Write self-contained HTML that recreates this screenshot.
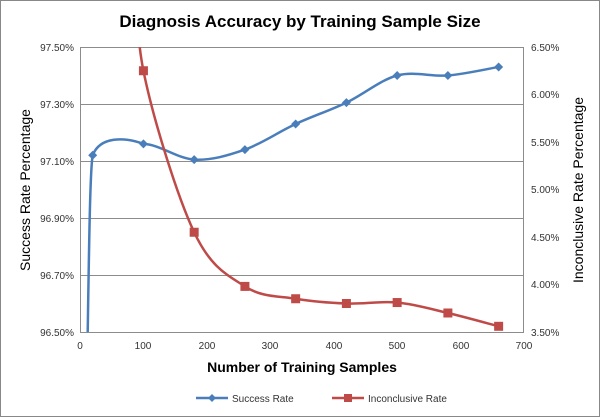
<!DOCTYPE html>
<html><head><meta charset="utf-8"><style>
html,body{margin:0;padding:0;background:#fff;overflow:hidden;width:600px;height:417px;}
svg{display:block;}
svg text{font-family:"Liberation Sans",sans-serif;}
</style></head><body>
<svg id="c" width="600" height="417" xmlns="http://www.w3.org/2000/svg">
<rect x="0.5" y="0.5" width="599" height="416" fill="#fff" stroke="#888"/>
<text x="300" y="27" font-size="17" font-weight="bold" text-anchor="middle" fill="#000">Diagnosis Accuracy by Training Sample Size</text>
<g stroke="#8c8c8c" stroke-width="1">
<line x1="80" y1="47.5" x2="524" y2="47.5"/><line x1="80" y1="104.5" x2="524" y2="104.5"/>
<line x1="80" y1="161.5" x2="524" y2="161.5"/><line x1="80" y1="218.5" x2="524" y2="218.5"/>
<line x1="80" y1="275.5" x2="524" y2="275.5"/><line x1="80" y1="332.5" x2="524" y2="332.5"/>
<line x1="80.5" y1="47" x2="80.5" y2="332"/><line x1="523.5" y1="47" x2="523.5" y2="332"/>
</g>
<g font-size="10" fill="#333" text-anchor="end">
<text x="74" y="51">97.50%</text><text x="74" y="108">97.30%</text><text x="74" y="165">97.10%</text>
<text x="74" y="222">96.90%</text><text x="74" y="279">96.70%</text><text x="74" y="336">96.50%</text>
</g>
<g font-size="10" fill="#333">
<text x="531" y="51">6.50%</text><text x="531" y="98">6.00%</text><text x="531" y="146">5.50%</text>
<text x="531" y="193">5.00%</text><text x="531" y="241">4.50%</text><text x="531" y="288">4.00%</text><text x="531" y="336">3.50%</text>
</g>
<g font-size="10" fill="#333" text-anchor="middle">
<text x="80" y="349">0</text><text x="143" y="349">100</text><text x="207" y="349">200</text><text x="270" y="349">300</text>
<text x="334" y="349">400</text><text x="397" y="349">500</text><text x="461" y="349">600</text><text x="524" y="349">700</text>
</g>
<text x="302" y="372" font-size="14" font-weight="bold" text-anchor="middle" fill="#000">Number of Training Samples</text>
<text transform="translate(30,190) rotate(-90)" font-size="14" text-anchor="middle" fill="#000">Success Rate Percentage</text>
<text transform="translate(583,190) rotate(-90)" font-size="14" text-anchor="middle" fill="#000">Inconclusive Rate Percentage</text>
<defs><clipPath id="pc"><rect x="80" y="47" width="444" height="285"/></clipPath></defs>
<g clip-path="url(#pc)">
<path id="s1" fill="none" stroke="#4a7ebb" stroke-width="2.5"/>
<path id="s2" fill="none" stroke="#be4b48" stroke-width="2.5"/>
</g>
<g id="m"></g>
<line x1="196" y1="398" x2="228" y2="398" stroke="#4a7ebb" stroke-width="2.5"/>
<path d="M212 394 L216 398 L212 402 L208 398Z" fill="#4a7ebb"/>
<text x="232" y="402" font-size="10" fill="#333">Success Rate</text>
<line x1="332" y1="398" x2="364" y2="398" stroke="#be4b48" stroke-width="2.5"/>
<rect x="344" y="394" width="8" height="8" fill="#be4b48"/>
<text x="368" y="402" font-size="10" fill="#333">Inconclusive Rate</text>
</svg>
<script>
function X(v){return 80+v*444/700;}
function Y1(v){return 332-(v-96.5)*285;}
function Y2(v){return 332-(v-3.5)*95;}
var a=[[20,97.12],[100,97.16],[180,97.105],[260,97.14],[340,97.23],[420,97.305],[500,97.40],[580,97.40],[660,97.43]].map(p=>[X(p[0]),Y1(p[1])]);
var b=[[88,7.6],[100,6.25],[180,4.55],[260,3.98],[340,3.85],[420,3.80],[500,3.81],[580,3.70],[660,3.56]].map(p=>[X(p[0]),Y2(p[1])]);
function cr(p,start){var d=start||("M"+p[0][0]+" "+p[0][1]);for(var i=(start?1:0);i<p.length-1;i++){var p0=p[i-1]||p[i],p1=p[i],p2=p[i+1],p3=p[i+2]||p2;var t=1/6;
d+=" C"+(p1[0]+(p2[0]-p0[0])*t)+" "+(p1[1]+(p2[1]-p0[1])*t)+" "+(p2[0]-(p3[0]-p1[0])*t)+" "+(p2[1]-(p3[1]-p1[1])*t)+" "+p2[0]+" "+p2[1];}return d;}
var st="M87.5 345 C89 250 90 170 "+a[0][0]+" "+a[0][1]+" C100 136 125 137 "+a[1][0]+" "+a[1][1];
document.getElementById("s1").setAttribute("d",cr(a,st));
document.getElementById("s2").setAttribute("d",cr(b));
var m="";a.forEach(p=>{m+='<path d="M'+p[0]+' '+(p[1]-4.5)+' L'+(p[0]+4.5)+' '+p[1]+' L'+p[0]+' '+(p[1]+4.5)+' L'+(p[0]-4.5)+' '+p[1]+'Z" fill="#4a7ebb"/>';});
b.slice(1).forEach(p=>{m+='<rect x="'+(p[0]-4.5)+'" y="'+(p[1]-4.5)+'" width="9" height="9" fill="#be4b48"/>';});
document.getElementById("m").innerHTML=m;
</script>
</body></html>
